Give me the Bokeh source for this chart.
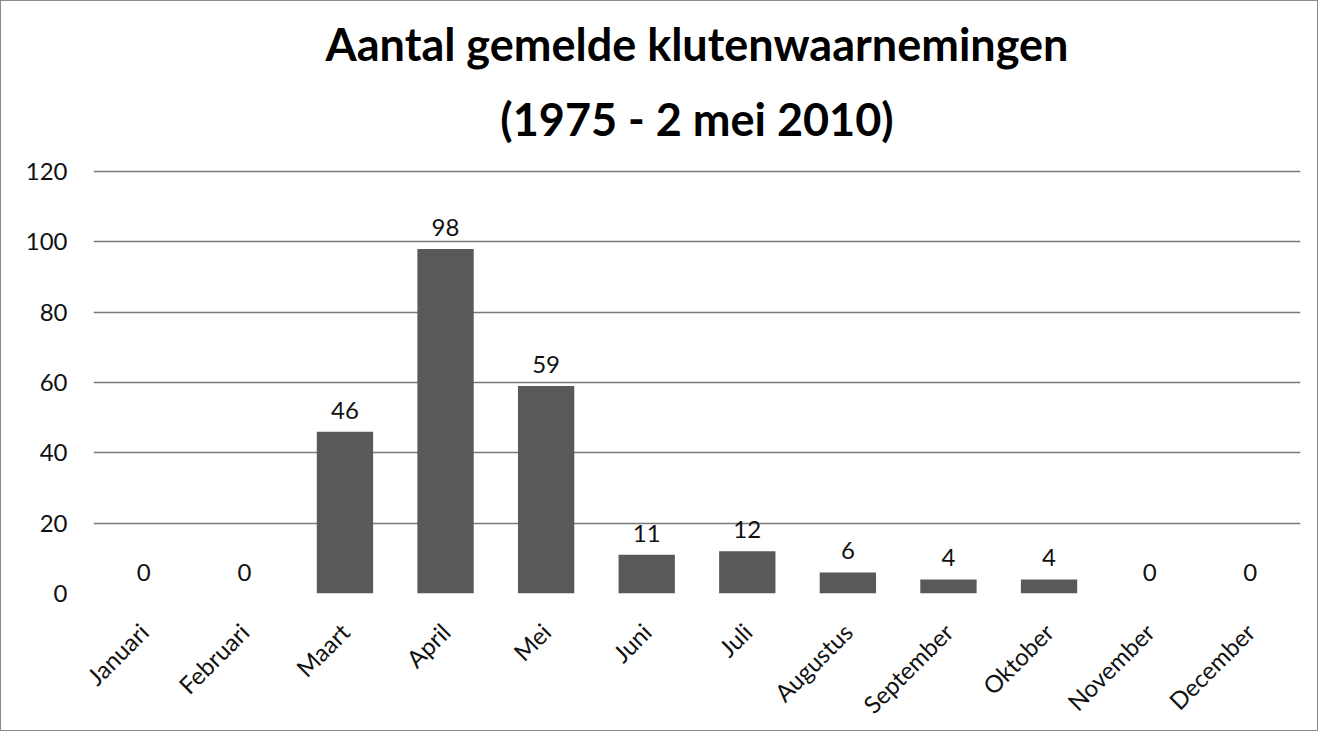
from bokeh.plotting import figure
from bokeh.models import ColumnDataSource, LabelSet, Range1d, Title, FixedTicker
from bokeh.core.properties import value
from bokeh.embed import file_html
from bokeh.resources import INLINE
import math

months = ["Januari", "Februari", "Maart", "April", "Mei", "Juni", "Juli",
          "Augustus", "September", "Oktober", "November", "December"]
counts = [0, 0, 46, 98, 59, 11, 12, 6, 4, 4, 0, 0]
y_ticks = [0, 20, 40, 60, 80, 100, 120]
title_lines = ["Aantal gemelde klutenwaarnemingen", "(1975 - 2 mei 2010)"]

FONT = "Lato"

source = ColumnDataSource(dict(month=months, count=counts,
                               label=[str(c) for c in counts]))

p = figure(x_range=months, y_range=Range1d(0, 120.6), width=1318, height=731,
           output_backend="svg", toolbar_location=None,
           min_border_left=92, min_border_right=19, min_border_bottom=139,
           min_border_top=0)

p.vbar(x="month", top="count", width=0.56, source=source,
       fill_color="#595959", line_color=None)

labels = LabelSet(x="month", y="count", text="label", source=source,
                  text_align="center", text_baseline="bottom", y_offset=13,
                  text_font=value(FONT), text_font_size="24px",
                  text_color="#111111")
p.add_layout(labels)

sub = Title(text=title_lines[1], align="center", vertical_align="top",
            text_font=FONT, text_font_size="45px", text_font_style="bold",
            text_color="#000000", standoff=43)
main = Title(text=title_lines[0], align="center", vertical_align="bottom",
             text_font=FONT, text_font_size="45px", text_font_style="bold",
             text_color="#000000", standoff=0)
spacer = Title(text=" ", align="center", text_font=FONT,
               text_font_size="1px", standoff=10)
p.add_layout(sub, "above")
p.add_layout(main, "above")
p.add_layout(spacer, "above")

p.outline_line_color = None
p.background_fill_color = "white"
p.border_fill_color = "white"

p.xgrid.grid_line_color = None
p.ygrid.grid_line_color = "#7a7a7a"
p.ygrid.grid_line_width = 1.5
p.yaxis.ticker = FixedTicker(ticks=y_ticks)

for ax in (p.xaxis, p.yaxis):
    ax.axis_line_color = None
    ax.major_tick_line_color = None
    ax.minor_tick_line_color = None
    ax.major_label_text_font = FONT
    ax.major_label_text_font_size = "24px"
    ax.major_label_text_color = "#111111"

p.yaxis.major_label_standoff = 20
p.xaxis.major_label_orientation = math.pi / 4
p.xaxis.major_label_standoff = 28

p.styles = {"border": "1.5px solid #8a8a8a"}

open("out.html", "w").write(file_html(p, INLINE))
